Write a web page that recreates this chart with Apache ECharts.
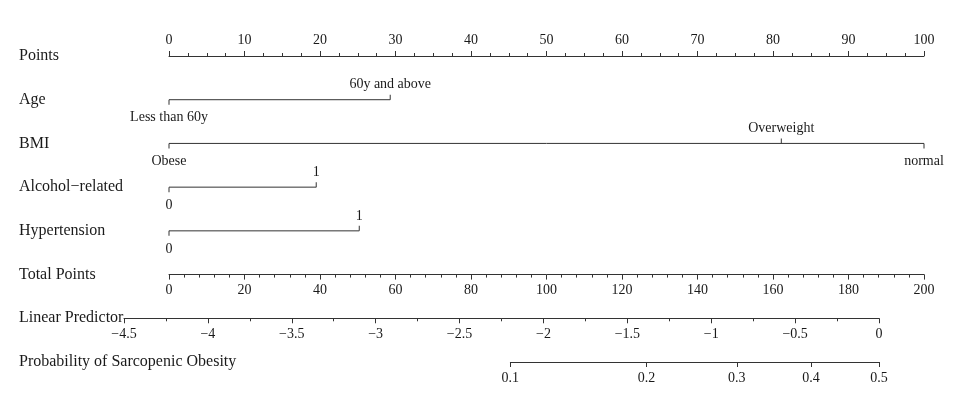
<!DOCTYPE html>
<html>
<head>
<meta charset="utf-8">
<script src="https://cdn.jsdelivr.net/npm/echarts@6/dist/echarts.min.js"></script>
<style>
  html, body { margin: 0; background: #fff; }
  #chart { width: 960px; height: 405px; }
</style>
</head>
<body>
<div id="chart"></div>
<script>
// row titles, top to bottom
const rowNames = ['Points', 'Age', 'BMI', 'Alcohol−related', 'Hypertension',
  'Total Points', 'Linear Predictor', 'Probability of Sarcopenic Obesity'];

// scales
const pointsRange = [0, 100];
const totalRange = [0, 200];
const lpRange = [-4.5, 0];
const probTicks = [0.1, 0.2, 0.3, 0.4, 0.5];

// predictor levels and their points
const ageLevels = ['Less than 60y', '60y and above'];
const agePoints = [0, 29.3];
const bmiLevels = ['Obese', 'Overweight', 'normal'];
const bmiPoints = [0, 81.1, 100];
const alcoholLevels = ['0', '1'];
const alcoholPoints = [0, 19.5];
const hyperLevels = ['0', '1'];
const hyperPoints = [0, 25.2];

// layout
const W = 960, H = 405;
const plotLeft = 169, plotRight = 36;
const rowTop = 56, rowBottom = 43;
const lpLeft = 124, lpRight = 81;
const rowY = i => rowTop + i * (H - rowTop - rowBottom) / (rowNames.length - 1);

const FONT = 'Liberation Serif';
const INK = '#333';
const TXT = '#1a1a1a';

const logit = p => Math.log(p / (1 - p));
const lpToX = v => lpLeft + (v - lpRange[0]) / (lpRange[1] - lpRange[0]) * (W - lpLeft - lpRight);
const probLeft = lpToX(logit(probTicks[0]));

const minus = v => String(v).replace('-', '−');

function axisBase(extra) {
  return Object.assign({
    type: 'value',
    axisLine: { show: true, onZero: false, lineStyle: { color: INK, width: 1 } },
    axisTick: { show: true, length: 5, lineStyle: { color: INK } },
    minorTick: { show: true, length: 3, lineStyle: { color: INK } },
    axisLabel: { fontFamily: FONT, fontSize: 14, color: TXT, margin: 9 },
    splitLine: { show: false },
    minorSplitLine: { show: false }
  }, extra);
}

function levelRow(row, levels, pts) {
  return [
    {
      type: 'line',
      xAxisIndex: 0, yAxisIndex: 0,
      data: [[Math.min(...pts), row], [Math.max(...pts), row]],
      symbol: 'none',
      lineStyle: { color: INK, width: 1 },
      silent: true
    },
    {
      type: 'scatter',
      xAxisIndex: 0, yAxisIndex: 0,
      symbol: 'rect',
      symbolSize: [1, 5],
      itemStyle: { color: INK, opacity: 1 },
      silent: true,
      label: { show: true, formatter: '{b}', fontFamily: FONT, fontSize: 14, color: TXT },
      data: levels.map((lv, i) => {
        const up = i % 2 === 1;
        return {
          name: lv,
          value: [pts[i], row],
          symbolOffset: [0, up ? -2.5 : 2.5],
          label: { position: up ? 'top' : 'bottom', distance: up ? 3 : 6 }
        };
      })
    }
  ];
}

const chart = echarts.init(document.getElementById('chart'));
chart.setOption({
  backgroundColor: '#fff',
  animation: false,
  grid: [
    { left: plotLeft, right: plotRight, top: rowTop, bottom: rowBottom },
    { left: plotLeft, right: plotRight, top: rowY(5) - 1, height: 1 },
    { left: lpLeft, right: lpRight, top: rowY(6) - 1, height: 1 },
    { left: probLeft, right: lpRight, top: rowY(7) - 1, height: 1 }
  ],
  xAxis: [
    axisBase({ gridIndex: 0, position: 'top', min: pointsRange[0], max: pointsRange[1], interval: 10,
      minorTick: { show: true, splitNumber: 4, length: 3, lineStyle: { color: INK } } }),
    axisBase({ gridIndex: 1, position: 'bottom', min: totalRange[0], max: totalRange[1], interval: 20,
      minorTick: { show: true, splitNumber: 5, length: 3, lineStyle: { color: INK } } }),
    axisBase({ gridIndex: 2, position: 'bottom', min: lpRange[0], max: lpRange[1], interval: 0.5,
      minorTick: { show: true, splitNumber: 2, length: 3, lineStyle: { color: INK } },
      axisLabel: { fontFamily: FONT, fontSize: 14, color: TXT, margin: 9, formatter: minus } }),
    axisBase({ gridIndex: 3, position: 'bottom', min: logit(probTicks[0]), max: lpRange[1],
      minorTick: { show: false },
      axisTick: { show: true, length: 5, lineStyle: { color: INK }, customValues: probTicks.map(logit) },
      axisLabel: { fontFamily: FONT, fontSize: 14, color: TXT, margin: 9,
        customValues: probTicks.map(logit),
        formatter: v => (1 / (1 + Math.exp(-v))).toFixed(1) } })
  ],
  yAxis: [
    {
      gridIndex: 0, type: 'category', data: rowNames, inverse: true, boundaryGap: false,
      axisLine: { show: false }, axisTick: { show: false }, splitLine: { show: false },
      axisLabel: { align: 'left', margin: plotLeft - 19, fontFamily: FONT, fontSize: 16, color: TXT }
    },
    { gridIndex: 1, type: 'value', show: false, min: 0, max: 1 },
    { gridIndex: 2, type: 'value', show: false, min: 0, max: 1 },
    { gridIndex: 3, type: 'value', show: false, min: 0, max: 1 }
  ],
  series: [
    ...levelRow('Age', ageLevels, agePoints),
    ...levelRow('BMI', bmiLevels, bmiPoints),
    ...levelRow('Alcohol−related', alcoholLevels, alcoholPoints),
    ...levelRow('Hypertension', hyperLevels, hyperPoints)
  ]
});
</script>
</body>
</html>
